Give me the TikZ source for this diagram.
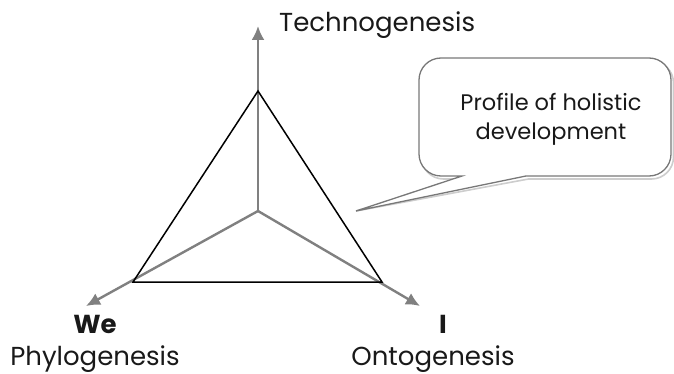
\documentclass[tikz,border=0pt]{standalone}
\usepackage{fontspec}
\setmainfont{Poppins}
\usepackage{tikz}
\usetikzlibrary{arrows.meta,positioning,calc}
\definecolor{axisgray}{RGB}{128,128,128}
\definecolor{bubblegray}{RGB}{120,120,120}
\definecolor{shadegray}{RGB}{205,205,205}
\definecolor{textdark}{RGB}{25,25,25}

\tikzset{
  axis/.style={draw=axisgray, line width=2.4pt, -{Latex[length=14pt,width=13pt]}},
  profile/.style={draw=black, line width=1.5pt, line join=miter},
  label/.style={text=textdark, font=\fontsize{26}{27}\selectfont, inner sep=0pt, anchor=base},
  pole/.style={label, font=\fontsize{26}{27}\selectfont\bfseries},
}

\begin{document}
\begin{tikzpicture}[x=1pt, y=-1pt]
    \useasboundingbox (0,0) rectangle (674,374);
    % centre, axis ends and the triangle corners
    \coordinate (c) at (258,211);
    \coordinate (techtip) at (258,26);
    \coordinate (phylotip) at (86,306);
    \coordinate (ontotip) at (420,306);
    \coordinate (t) at (258,91);
    \coordinate (l) at (133,282);
    \coordinate (r) at (382,282);

    \draw [axis] (c) -- (techtip);
    \draw [axis] (c) -- (phylotip);
    \draw [axis] (c) -- (ontotip);
    \draw [profile] (t) -- (l) -- (r) -- cycle;

    % speech bubble with its shadow
    \coordinate (tail) at (356,211);
    \draw [shadegray, line width=1.6pt, shift={(2.5,3)}]
        (tail) -- (526,176) [rounded corners=22pt] -- (671,176) -- (671,58) -- (419,58) -- (419,176) [sharp corners] -- (462,176) -- cycle;
    \draw [bubblegray, line width=1.3pt, fill=white]
        (tail) -- (526,176) [rounded corners=22pt] -- (671,176) -- (671,58) -- (419,58) -- (419,176) [sharp corners] -- (462,176) -- cycle;
    \node [label, anchor=center, align=center, font=\fontsize{22.5}{29}\selectfont] (bubble) at (551,119) {Profile of holistic\\development};

    % axis names
    \node [label, anchor=base west] (techno) at (279,32) {Technogenesis};
    \node [pole] (we) at (95,333) {We};
    \node [label] (phylo) at (95,365) {Phylogenesis};
    \node [pole] (ich) at (443,333) {I};
    \node [label] (onto) at (433,365) {Ontogenesis};
\end{tikzpicture}
\end{document}
